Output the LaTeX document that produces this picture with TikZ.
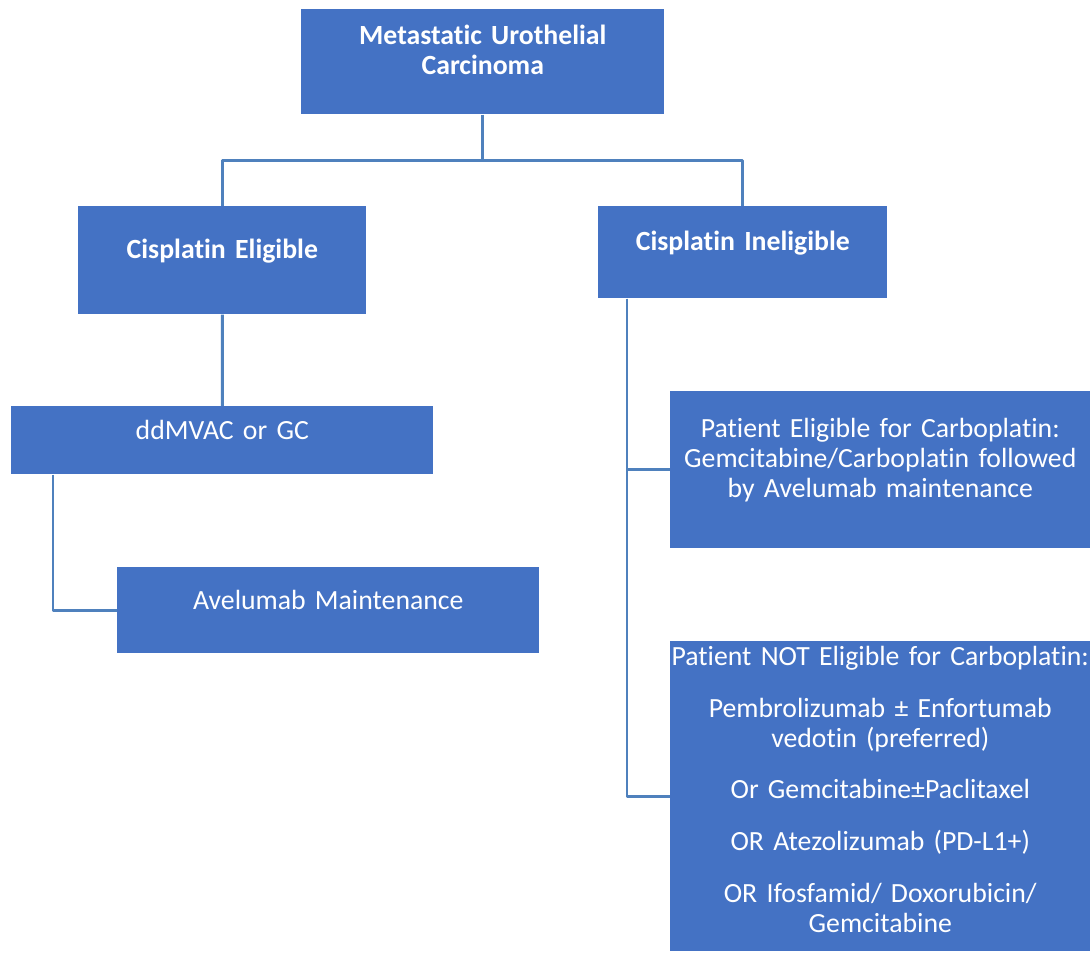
\documentclass[tikz,border=0pt]{standalone}
\usepackage{fontspec}
\setmainfont{Carlito}[Ligatures=NoCommon]
\definecolor{boxblue}{HTML}{4472C4}
\definecolor{linkblue}{HTML}{4F81BD}
\begin{document}
\begin{tikzpicture}[x=0.02cm,y=-0.02cm,line join=round,
	box/.style={fill=boxblue,text=white,inner sep=0pt,anchor=north west,align=center,
		font=\fontsize{15.8}{17}\selectfont},
	hdr/.style={box,font=\fontsize{15.8}{17}\selectfont\bfseries},
	link/.style={draw=linkblue,line width=1.7pt}]
	\useasboundingbox (0,0) rectangle (1090,953);
	% boxes
	\node[hdr,text width=7.26cm,text height=0.7cm,text depth=1.4cm] (mets) at (301,9) {Metastatic Urothelial\\Carcinoma};
	\node[hdr,text width=5.76cm,text height=1.04cm,text depth=1.12cm] (elig) at (78,206) {Cisplatin Eligible};
	\node[hdr,text width=5.78cm,text height=0.88cm,text depth=0.96cm] (inelig) at (598,206) {Cisplatin Ineligible};
	\node[box,text width=8.44cm,text height=0.66cm,text depth=0.7cm] (ddmvac) at (11,406) {ddMVAC or GC};
	\node[box,text width=8.44cm,text height=0.84cm,text depth=0.88cm] (avel) at (117,567) {Avelumab Maintenance};
	\node[box,text width=8.4cm,text height=0.92cm,text depth=2.22cm] (carbo) at (670,391)
		{Patient Eligible for Carboplatin:\\Gemcitabine/Carboplatin followed\\by Avelumab maintenance};
	\node[box,text width=8.4cm,text height=0.48cm,text depth=5.72cm] (nocarbo) at (670,641)
		{Patient NOT Eligible for Carboplatin:\\[0.44cm]
		Pembrolizumab ± Enfortumab\\vedotin (preferred)\\[0.44cm]
		Or Gemcitabine±Paclitaxel\\[0.44cm]
		OR Atezolizumab (PD-L1+)\\[0.44cm]
		OR Ifosfamid/ Doxorubicin/\\Gemcitabine};
	% connectors
	\draw[link] (mets.south) -- ++(0,46) coordinate (bus);
	\draw[link] (bus) -| (elig.north);
	\draw[link] (bus) -| (inelig.north);
	\draw[link] (elig.south) -- (ddmvac.north);
	\draw[link] (ddmvac.south west) ++(42,0) |- (avel.west);
	\draw[link] (inelig.south west) ++(29,0) coordinate (trunk) |- (carbo.west);
	\draw[link] (trunk) |- (nocarbo.west);
\end{tikzpicture}
\end{document}
